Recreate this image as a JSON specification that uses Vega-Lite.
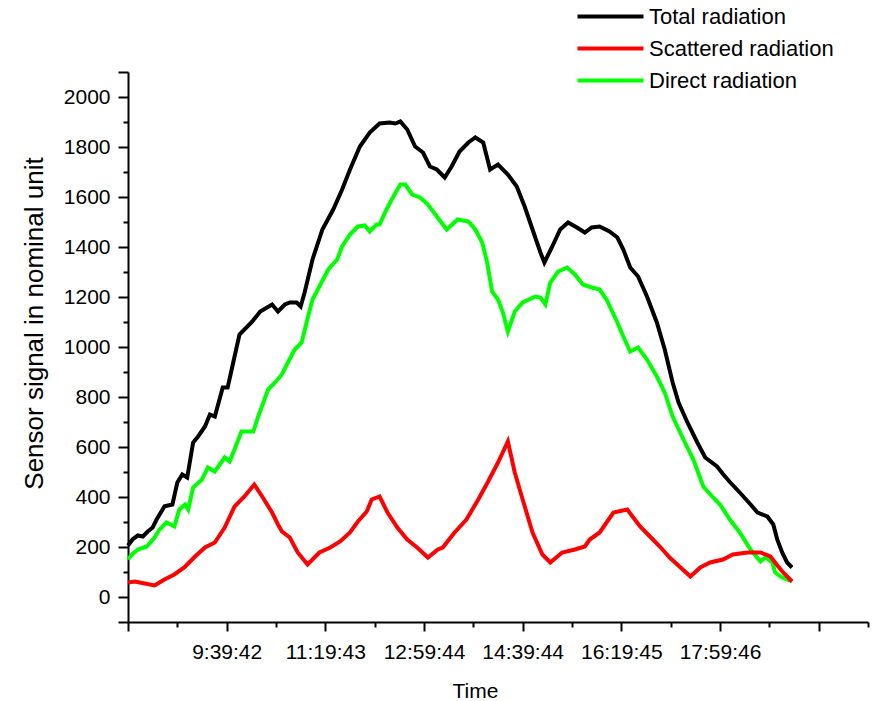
{
  "$schema": "https://vega.github.io/schema/vega-lite/v6.json",
  "width": 740,
  "height": 550,
  "autosize": "none",
  "padding": {"left": 128, "top": 72, "right": 8, "bottom": 79},
  "background": "white",
  "config": {
    "view": {"stroke": null},
    "font": "Liberation Sans",
    "axis": {
      "grid": false,
      "domainColor": "#000000",
      "domainWidth": 2,
      "tickColor": "#000000",
      "tickWidth": 2,
      "labelColor": "#000000",
      "labelFont": "Liberation Sans",
      "labelFontSize": 21,
      "titleColor": "#000000",
      "titleFont": "Liberation Sans",
      "titleFontWeight": "normal"
    }
  },
  "datasets": {
    "total": [
      {"t": 0, "v": 206}, {"t": 5, "v": 232}, {"t": 10, "v": 246}, {"t": 15, "v": 242}, {"t": 20, "v": 262},
      {"t": 25, "v": 278}, {"t": 29, "v": 310}, {"t": 37, "v": 363}, {"t": 45, "v": 370}, {"t": 50, "v": 458},
      {"t": 55, "v": 490}, {"t": 60, "v": 478}, {"t": 66, "v": 618}, {"t": 71, "v": 642}, {"t": 78, "v": 682},
      {"t": 83, "v": 730}, {"t": 88, "v": 722}, {"t": 96, "v": 838}, {"t": 101, "v": 838}, {"t": 108, "v": 962},
      {"t": 113, "v": 1050}, {"t": 126, "v": 1102}, {"t": 134, "v": 1142}, {"t": 146, "v": 1170}, {"t": 152, "v": 1142},
      {"t": 159, "v": 1170}, {"t": 164, "v": 1178}, {"t": 171, "v": 1178}, {"t": 175, "v": 1162}, {"t": 179, "v": 1218},
      {"t": 187, "v": 1350}, {"t": 197, "v": 1470}, {"t": 208, "v": 1550}, {"t": 217, "v": 1630}, {"t": 225, "v": 1710},
      {"t": 235, "v": 1802}, {"t": 245, "v": 1858}, {"t": 255, "v": 1894}, {"t": 265, "v": 1898}, {"t": 271, "v": 1894},
      {"t": 276, "v": 1902}, {"t": 283, "v": 1870}, {"t": 291, "v": 1802}, {"t": 299, "v": 1778}, {"t": 306, "v": 1722},
      {"t": 313, "v": 1710}, {"t": 321, "v": 1678}, {"t": 328, "v": 1722}, {"t": 336, "v": 1782}, {"t": 345, "v": 1818},
      {"t": 352, "v": 1838}, {"t": 360, "v": 1818}, {"t": 367, "v": 1710}, {"t": 375, "v": 1730}, {"t": 385, "v": 1690},
      {"t": 394, "v": 1642}, {"t": 402, "v": 1562}, {"t": 410, "v": 1470}, {"t": 418, "v": 1378}, {"t": 422, "v": 1338},
      {"t": 430, "v": 1402}, {"t": 438, "v": 1470}, {"t": 446, "v": 1498}, {"t": 455, "v": 1478}, {"t": 463, "v": 1458},
      {"t": 470, "v": 1478}, {"t": 478, "v": 1482}, {"t": 488, "v": 1462}, {"t": 496, "v": 1438}, {"t": 502, "v": 1390},
      {"t": 509, "v": 1318}, {"t": 517, "v": 1282}, {"t": 526, "v": 1202}, {"t": 536, "v": 1098}, {"t": 544, "v": 990},
      {"t": 552, "v": 858}, {"t": 558, "v": 778}, {"t": 567, "v": 698}, {"t": 577, "v": 618}, {"t": 585, "v": 558},
      {"t": 597, "v": 522}, {"t": 603, "v": 492}, {"t": 610, "v": 460}, {"t": 620, "v": 418}, {"t": 631, "v": 370},
      {"t": 638, "v": 338}, {"t": 648, "v": 322}, {"t": 654, "v": 290}, {"t": 658, "v": 230}, {"t": 663, "v": 178},
      {"t": 668, "v": 138}, {"t": 673, "v": 118}
    ],
    "scattered": [
      {"t": 0, "v": 58}, {"t": 7, "v": 62}, {"t": 17, "v": 54}, {"t": 27, "v": 46}, {"t": 37, "v": 70},
      {"t": 47, "v": 90}, {"t": 57, "v": 118}, {"t": 68, "v": 162}, {"t": 78, "v": 198}, {"t": 88, "v": 218},
      {"t": 98, "v": 278}, {"t": 108, "v": 362}, {"t": 118, "v": 402}, {"t": 128, "v": 450}, {"t": 136, "v": 402},
      {"t": 146, "v": 338}, {"t": 152, "v": 290}, {"t": 156, "v": 262}, {"t": 164, "v": 238}, {"t": 172, "v": 178},
      {"t": 182, "v": 130}, {"t": 194, "v": 178}, {"t": 205, "v": 198}, {"t": 215, "v": 222}, {"t": 225, "v": 258},
      {"t": 233, "v": 302}, {"t": 242, "v": 342}, {"t": 247, "v": 390}, {"t": 255, "v": 402}, {"t": 263, "v": 338},
      {"t": 273, "v": 278}, {"t": 283, "v": 230}, {"t": 293, "v": 198}, {"t": 304, "v": 158}, {"t": 314, "v": 190},
      {"t": 319, "v": 198}, {"t": 331, "v": 258}, {"t": 343, "v": 310}, {"t": 355, "v": 390}, {"t": 365, "v": 462},
      {"t": 375, "v": 538}, {"t": 385, "v": 622}, {"t": 392, "v": 498}, {"t": 400, "v": 390}, {"t": 410, "v": 258},
      {"t": 420, "v": 170}, {"t": 428, "v": 138}, {"t": 440, "v": 178}, {"t": 453, "v": 190}, {"t": 463, "v": 202},
      {"t": 468, "v": 230}, {"t": 478, "v": 258}, {"t": 492, "v": 338}, {"t": 506, "v": 350}, {"t": 519, "v": 282},
      {"t": 529, "v": 242}, {"t": 539, "v": 202}, {"t": 549, "v": 158}, {"t": 560, "v": 118}, {"t": 570, "v": 82},
      {"t": 580, "v": 118}, {"t": 590, "v": 138}, {"t": 603, "v": 150}, {"t": 613, "v": 170}, {"t": 628, "v": 178},
      {"t": 641, "v": 178}, {"t": 651, "v": 162}, {"t": 659, "v": 122}, {"t": 664, "v": 98}, {"t": 673, "v": 62}
    ],
    "direct": [
      {"t": 0, "v": 150}, {"t": 4, "v": 170}, {"t": 10, "v": 190}, {"t": 19, "v": 202}, {"t": 27, "v": 238},
      {"t": 32, "v": 270}, {"t": 39, "v": 298}, {"t": 47, "v": 282}, {"t": 52, "v": 350}, {"t": 58, "v": 370},
      {"t": 61, "v": 350}, {"t": 66, "v": 438}, {"t": 75, "v": 470}, {"t": 81, "v": 518}, {"t": 88, "v": 502},
      {"t": 98, "v": 558}, {"t": 103, "v": 542}, {"t": 108, "v": 590}, {"t": 115, "v": 662}, {"t": 127, "v": 662},
      {"t": 132, "v": 722}, {"t": 142, "v": 830}, {"t": 149, "v": 858}, {"t": 156, "v": 890}, {"t": 161, "v": 930},
      {"t": 169, "v": 990}, {"t": 176, "v": 1018}, {"t": 181, "v": 1098}, {"t": 187, "v": 1190}, {"t": 194, "v": 1242},
      {"t": 203, "v": 1310}, {"t": 212, "v": 1350}, {"t": 217, "v": 1402}, {"t": 225, "v": 1450}, {"t": 233, "v": 1482},
      {"t": 240, "v": 1486}, {"t": 245, "v": 1462}, {"t": 252, "v": 1490}, {"t": 255, "v": 1490}, {"t": 262, "v": 1550},
      {"t": 269, "v": 1602}, {"t": 276, "v": 1650}, {"t": 281, "v": 1650}, {"t": 288, "v": 1610}, {"t": 296, "v": 1598},
      {"t": 304, "v": 1570}, {"t": 313, "v": 1522}, {"t": 323, "v": 1470}, {"t": 334, "v": 1510}, {"t": 345, "v": 1502},
      {"t": 352, "v": 1470}, {"t": 359, "v": 1418}, {"t": 364, "v": 1338}, {"t": 369, "v": 1222}, {"t": 375, "v": 1190},
      {"t": 380, "v": 1138}, {"t": 385, "v": 1062}, {"t": 392, "v": 1142}, {"t": 400, "v": 1178}, {"t": 413, "v": 1202},
      {"t": 418, "v": 1198}, {"t": 423, "v": 1170}, {"t": 428, "v": 1258}, {"t": 436, "v": 1302}, {"t": 445, "v": 1318},
      {"t": 453, "v": 1290}, {"t": 461, "v": 1250}, {"t": 470, "v": 1238}, {"t": 478, "v": 1230}, {"t": 485, "v": 1190},
      {"t": 496, "v": 1098}, {"t": 502, "v": 1042}, {"t": 509, "v": 982}, {"t": 517, "v": 998}, {"t": 526, "v": 950},
      {"t": 536, "v": 882}, {"t": 544, "v": 818}, {"t": 552, "v": 722}, {"t": 563, "v": 630}, {"t": 573, "v": 550},
      {"t": 583, "v": 442}, {"t": 593, "v": 398}, {"t": 600, "v": 370}, {"t": 610, "v": 310}, {"t": 620, "v": 258},
      {"t": 631, "v": 190}, {"t": 641, "v": 142}, {"t": 646, "v": 158}, {"t": 653, "v": 138}, {"t": 656, "v": 98},
      {"t": 663, "v": 78}, {"t": 673, "v": 62}
    ]
  },
  "encoding": {
    "x": {
      "field": "t",
      "type": "quantitative",
      "scale": {"domain": [0, 750], "nice": false, "zero": false},
      "axis": {
        "title": "Time",
        "titleFontSize": 21,
        "titleX": 347,
        "titleY": 58,
        "titleBaseline": "top",
        "values": [0, 50, 100, 150, 200, 250, 300, 350, 400, 450, 500, 550, 600, 650, 700, 750],
        "tickSize": {"condition": {"test": "datum.value % 100 === 0", "value": 9}, "value": 5},
        "labelPadding": 10,
        "labelExpr": "datum.value === 100 ? '9:39:42' : datum.value === 200 ? '11:19:43' : datum.value === 300 ? '12:59:44' : datum.value === 400 ? '14:39:44' : datum.value === 500 ? '16:19:45' : datum.value === 600 ? '17:59:46' : ''",
        "labelFlush": false,
        "labelOverlap": false
      }
    },
    "y": {
      "field": "v",
      "type": "quantitative",
      "scale": {"domain": [-100, 2100], "nice": false, "zero": false},
      "axis": {
        "title": "Sensor signal in nominal unit",
        "titleFontSize": 26,
        "titlePadding": 16,
        "titleY": 251,
        "values": [-100, 0, 100, 200, 300, 400, 500, 600, 700, 800, 900, 1000, 1100, 1200, 1300, 1400, 1500, 1600, 1700, 1800, 1900, 2000, 2100],
        "format": "d",
        "tickSize": {"condition": {"test": "datum.value % 200 === 0 || datum.value === -100 || datum.value === 2100", "value": 10}, "value": 5},
        "labelPadding": 8,
        "labelExpr": "datum.value >= 0 && datum.value <= 2000 && datum.value % 200 === 0 ? datum.label : ''",
        "labelFlush": false,
        "labelOverlap": false
      }
    },
    "color": {
      "type": "nominal",
      "scale": {
        "domain": ["Total radiation", "Scattered radiation", "Direct radiation"],
        "range": ["#000000", "#ff0000", "#00ff00"]
      },
      "legend": {
        "title": null,
        "orient": "none",
        "legendX": 464,
        "legendY": -74,
        "padding": 0,
        "symbolType": "M-2,0H2",
        "symbolSize": 1089,
        "symbolStrokeWidth": 4,
        "symbolFillColor": "transparent",
        "labelFontSize": 22,
        "labelFont": "Liberation Sans",
        "labelColor": "#000000",
        "labelLimit": 400,
        "labelOffset": 20,
        "rowPadding": 2
      }
    }
  },
  "layer": [
    {
      "data": {"name": "direct"},
      "mark": {"type": "line", "strokeWidth": 4, "interpolate": "linear"},
      "encoding": {"color": {"datum": "Direct radiation"}}
    },
    {
      "data": {"name": "scattered"},
      "mark": {"type": "line", "strokeWidth": 4, "interpolate": "linear"},
      "encoding": {"color": {"datum": "Scattered radiation"}}
    },
    {
      "data": {"name": "total"},
      "mark": {"type": "line", "strokeWidth": 4, "interpolate": "linear"},
      "encoding": {"color": {"datum": "Total radiation"}}
    }
  ]
}
